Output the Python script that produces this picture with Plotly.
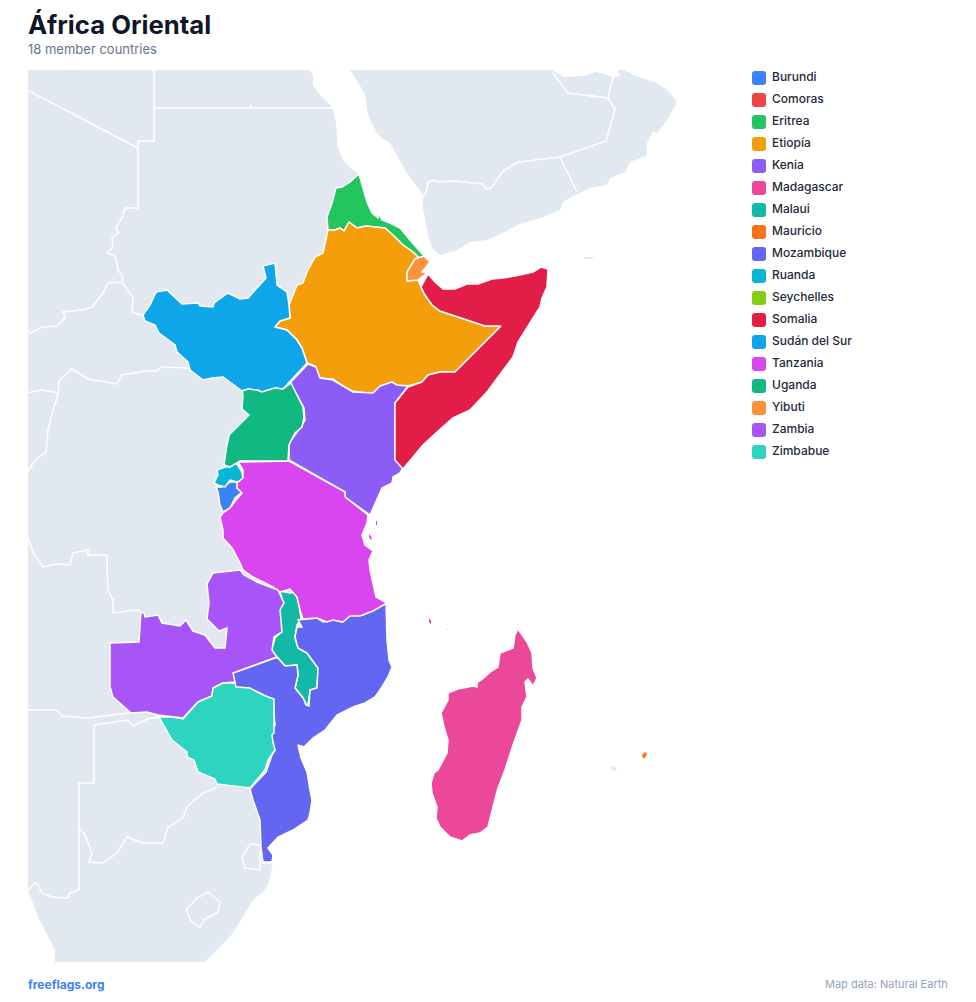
import plotly.graph_objects as go

# outlines: Mercator grid, 1 unit = 1/15 degree, origin at 22E / equator
burundi = [(107, -41), (113, -41), (121, -36), (128, -36), (128, -42), (133, -46), (126, -52), (121, -62),
           (114, -66), (111, -59), (109, -46)]
comoras = [(320, -172), (322, -175), (322, -178), (320, -176)]
eritrea = [(250, 272), (254, 258), (258, 244), (263, 233), (269, 228), (270, 232), (273, 226), (281, 223),
           (291, 218), (301, 206), (308, 198), (315, 190), (310, 188), (304, 194), (294, 201), (284, 211),
           (276, 218), (266, 219), (257, 220), (248, 218), (240, 224), (235, 215), (231, 218), (226, 216),
           (219, 216), (218, 229), (223, 243), (227, 258), (233, 259), (241, 264)]
etiopia = [(240, 224), (248, 218), (257, 220), (266, 219), (276, 218), (284, 211), (294, 201), (304, 194),
           (310, 188), (306, 187), (298, 174), (298, 165), (309, 166), (312, 159), (316, 151), (323, 141),
           (331, 135), (376, 120), (392, 120), (346, 74), (331, 74), (319, 71), (313, 64), (299, 60),
           (288, 60), (283, 64), (271, 59), (264, 52), (243, 55), (234, 60), (224, 67), (211, 68), (207, 73),
           (206, 80), (198, 83), (193, 98), (188, 106), (178, 116), (166, 119), (171, 125), (181, 128),
           (180, 141), (184, 151), (188, 161), (194, 163), (198, 174), (206, 189), (214, 193), (219, 216),
           (226, 216), (231, 218), (235, 215)]
kenia = [(181, 63), (199, 82), (207, 79), (211, 68), (224, 66), (244, 54), (264, 53), (271, 60), (283, 64),
         (288, 61), (299, 60), (286, 43), (286, -12), (294, -22), (291, -27), (284, -31), (283, -37),
         (273, -42), (269, -51), (261, -69), (236, -51), (236, -46), (180, -14), (180, 3), (191, 18),
         (196, 26), (195, 38), (188, 51)]
madagascar = [(409, -183), (418, -196), (423, -207), (424, -222), (428, -232), (424, -240), (419, -233),
              (416, -236), (418, -251), (413, -261), (413, -274), (404, -299), (396, -324), (389, -342),
              (384, -361), (379, -381), (371, -387), (361, -389), (353, -395), (341, -391), (331, -381),
              (327, -372), (328, -361), (323, -347), (322, -337), (325, -327), (329, -324), (338, -307),
              (339, -294), (335, -281), (332, -267), (339, -254), (339, -247), (349, -243), (364, -240),
              (368, -241), (368, -237), (376, -231), (381, -226), (389, -221), (391, -207), (404, -202),
              (406, -189)]
malaui = [(171, -145), (181, -147), (186, -146), (189, -154), (192, -172), (188, -179), (186, -191),
          (189, -202), (198, -207), (209, -222), (208, -242), (201, -244), (199, -259), (197, -258),
          (194, -252), (186, -242), (189, -229), (188, -219), (176, -220), (169, -212), (162, -206),
          (166, -192), (171, -187), (169, -164), (174, -157)]
mauricio = [(536, -306), (538, -308), (536, -312), (534, -312), (533, -309)]
mozambique = [(277, -157), (278, -194), (280, -214), (283, -221), (279, -231), (273, -241), (266, -251),
              (256, -257), (244, -261), (228, -269), (216, -284), (204, -292), (195, -301), (189, -299),
              (192, -312), (198, -326), (201, -344), (203, -354), (201, -367), (199, -374), (184, -384),
              (169, -391), (159, -402), (164, -409), (163, -416), (154, -416), (152, -401), (151, -374),
              (144, -354), (141, -343), (157, -326), (163, -309), (166, -304), (163, -296), (162, -287),
              (166, -279), (164, -254), (151, -247), (138, -242), (126, -241), (124, -227), (166, -212),
              (169, -212), (176, -220), (188, -219), (189, -229), (186, -242), (194, -252), (197, -259),
              (200, -260), (201, -244), (208, -242), (209, -222), (198, -207), (189, -202), (186, -191),
              (188, -181), (193, -181), (189, -174), (208, -172), (214, -176), (224, -174), (233, -176),
              (241, -169), (254, -169)]
ruanda = [(127, -17), (133, -26), (134, -34), (128, -36), (121, -34), (116, -41), (109, -39), (105, -37),
          (109, -29), (108, -24), (116, -21), (121, -21)]
seychelles = []
somalia = [(319, 172), (326, 164), (334, 157), (346, 157), (358, 162), (369, 162), (383, 167), (394, 168),
           (411, 171), (424, 174), (432, 179), (439, 177), (438, 159), (433, 148), (431, 139), (418, 118),
           (409, 104), (404, 89), (391, 71), (378, 54), (361, 36), (344, 28), (328, 14), (314, 1), (294, -23),
           (286, -14), (286, 43), (299, 59), (313, 64), (319, 71), (331, 74), (346, 74), (392, 120),
           (376, 120), (331, 135), (323, 141), (316, 151), (312, 159)]
sudan_sur = [(166, 183), (154, 180), (157, 168), (149, 159), (139, 148), (131, 147), (119, 153), (105, 143),
             (104, 139), (91, 140), (89, 143), (73, 142), (58, 156), (47, 154), (41, 141), (34, 131),
             (36, 125), (46, 121), (50, 113), (66, 101), (68, 94), (79, 84), (81, 76), (94, 66), (103, 68),
             (114, 69), (133, 55), (139, 57), (148, 56), (153, 54), (166, 58), (174, 57), (198, 83), (193, 98),
             (188, 106), (178, 116), (166, 119), (171, 125), (181, 128), (180, 141), (178, 154), (168, 161),
             (167, 174)]
tanzania = [(129, -16), (180, -15), (236, -46), (236, -51), (259, -69), (258, -77), (253, -89), (256, -99),
            (264, -105), (260, -114), (261, -124), (264, -137), (267, -151), (278, -157), (264, -165),
            (251, -170), (241, -170), (234, -176), (224, -174), (218, -176), (208, -172), (194, -173),
            (191, -164), (188, -151), (181, -143), (171, -146), (164, -141), (154, -136), (144, -131),
            (134, -124), (131, -117), (123, -102), (114, -92), (114, -84), (111, -71), (114, -67), (121, -62),
            (127, -54), (133, -47), (128, -42), (128, -37), (134, -32), (134, -24)]
tanzania_islands = [[(267, -75), (268, -75), (268, -79), (267, -79)],
                    [(260, -88), (263, -92), (262, -94), (260, -91)]]
uganda = [(133, 55), (139, 57), (148, 56), (153, 54), (166, 58), (174, 57), (182, 63), (188, 51), (194, 39),
          (195, 28), (193, 19), (186, 13), (180, 1), (179, -15), (131, -15), (121, -21), (115, -19), (118, 1),
          (120, 11), (128, 19), (140, 31), (133, 37), (134, 51)]
yibuti = [(315, 190), (321, 184), (317, 179), (313, 174), (318, 173), (309, 166), (298, 165), (298, 174),
          (306, 187), (310, 188)]
zambia = [(104, -127), (131, -124), (135, -129), (148, -136), (161, -141), (169, -144), (175, -157),
          (171, -164), (173, -186), (165, -191), (163, -204), (168, -211), (124, -227), (126, -236),
          (114, -237), (104, -242), (103, -250), (89, -256), (74, -272), (63, -271), (49, -269), (38, -266),
          (22, -267), (4, -251), (1, -241), (1, -197), (30, -196), (32, -166), (35, -167), (36, -171),
          (49, -169), (53, -177), (71, -180), (77, -174), (84, -185), (96, -189), (106, -202), (116, -202),
          (118, -182), (110, -185), (98, -173), (100, -157), (98, -138)]
zimbabue = [(50, -271), (63, -271), (74, -273), (89, -256), (103, -250), (104, -242), (114, -237), (126, -237),
            (127, -241), (141, -242), (154, -249), (165, -253), (165, -287), (163, -289), (164, -296),
            (166, -304), (159, -314), (156, -324), (141, -342), (123, -340), (108, -338), (106, -333),
            (89, -326), (85, -314), (78, -311), (78, -306), (63, -294)]

# neighbours, all in the same grey
africa_rest = [(-90, 385), (200, 385), (200, 376), (204, 371), (204, 361), (211, 351), (223, 339), (227, 324),
               (229, 298), (234, 286), (244, 276), (250, 272), (250, 250), (296, 170), (290, 0), (245, -70),
               (245, -160), (190, -290), (160, -380), (158, -410), (164, -417), (160, -436), (156, -444),
               (144, -454), (138, -464), (124, -487), (111, -501), (96, -516), (90, -530), (-54, -530),
               (-54, -504), (-62, -489), (-71, -471), (-76, -457), (-81, -446), (-90, -440)]
arabia = [(241, 385), (241, 376), (249, 364), (256, 351), (259, 331), (269, 311), (281, 303), (289, 289),
          (299, 271), (311, 256), (314, 248), (314, 238), (319, 211), (323, 198), (331, 191), (348, 196),
          (361, 204), (378, 206), (394, 213), (408, 221), (431, 228), (451, 236), (454, 244), (464, 250),
          (481, 258), (498, 261), (501, 268), (516, 274), (521, 284), (534, 289), (538, 291), (538, 303),
          (544, 315), (548, 313), (558, 326), (568, 344), (558, 356), (548, 363), (524, 371), (516, 376),
          (511, 385), (508, 376), (511, 371), (504, 369), (488, 374), (474, 370), (454, 369), (444, 376),
          (444, 385)]
socotra = [(474, 189), (486, 189), (481, 187), (476, 187)]
mayotte = [(337, -183), (339, -183), (339, -184), (337, -184)]
reunion = [(502, -320), (506, -321), (508, -325), (504, -325), (502, -323)]

borders = [
    [(-82, 356), (29, 298)],
    [(45, 376), (45, 305), (29, 305), (29, 238), (16, 238), (13, 228), (7, 219), (9, 213), (3, 208), (4, 199),
     (-2, 193), (6, 191), (9, 176), (14, 169), (13, 164), (24, 148), (23, 134), (34, 130)],
    [(45, 338), (141, 338), (142, 341), (143, 338), (223, 338)],
    [(13, 164), (-1, 163), (-6, 153), (-17, 139), (-27, 136), (-46, 134), (-44, 128), (-52, 120), (-67, 119),
     (-78, 113), (-82, 116)],
    [(79, 78), (53, 79), (48, 75), (36, 75), (13, 71), (8, 62), (-21, 67), (-37, 77), (-49, 66), (-50, 64),
     (-51, 51), (-57, 33), (-61, 16), (-63, -6), (-74, -14), (-82, -27)],
    [(-82, 53), (-67, 56), (-51, 53)],
    [(-81, -91), (-76, -107), (-66, -121), (-52, -118), (-39, -119), (-36, -107), (-21, -104), (-21, -109),
     (-2, -109), (-2, -124), (-1, -144), (4, -154), (4, -167), (18, -165), (31, -164)],
    [(-82, -264), (-52, -264), (-47, -270), (-22, -272), (21, -267), (34, -265), (46, -267), (50, -271)],
    [(-15, -279), (19, -274), (24, -280), (38, -273), (49, -271)],
    [(-15, -279), (-15, -337), (-30, -337), (-30, -444), (-39, -447), (-42, -452), (-57, -451), (-67, -447),
     (-71, -439), (-74, -437), (-81, -445)],
    [(-30, -382), (-24, -389), (-17, -407), (-20, -416), (-6, -417), (8, -407), (18, -391), (34, -397),
     (54, -397), (59, -381), (74, -372), (78, -361), (94, -347), (108, -341)],
    [(151, -399), (141, -398), (133, -411), (136, -422), (151, -424), (151, -399)],
    [(151, -417), (164, -417)],
    [(99, -446), (111, -456), (109, -466), (96, -473), (91, -481), (83, -476), (77, -464), (88, -452), (99, -446)],
    [(314, 248), (318, 256), (319, 264), (324, 266), (329, 264), (348, 265), (374, 262), (377, 257), (382, 258),
     (394, 275), (409, 284), (451, 289), (468, 254)],
    [(451, 289), (497, 305), (506, 337), (499, 348), (459, 353), (444, 373)],
    [(499, 348), (504, 369), (511, 371)],
]

names = ['Burundi', 'Comoras', 'Eritrea', 'Etiopía', 'Kenia', 'Madagascar', 'Malaui', 'Mauricio', 'Mozambique',
         'Ruanda', 'Seychelles', 'Somalia', 'Sudán del Sur', 'Tanzania', 'Uganda', 'Yibuti', 'Zambia', 'Zimbabue']
colors = ['#3b82f6', '#ef4444', '#22c55e', '#f59e0b', '#8b5cf6', '#ec4899', '#14b8a6', '#f97316', '#6366f1',
          '#06b6d4', '#84cc16', '#e11d48', '#0ea5e9', '#d946ef', '#10b981', '#fb923c', '#a855f7', '#2dd4bf']
outlines = [burundi, comoras, eritrea, etiopia, kenia, madagascar, malaui, mauricio, mozambique,
            ruanda, seychelles, somalia, sudan_sur, tanzania, uganda, yibuti, zambia, zimbabue]

LAND = '#e2e8f0'
W, H = 976, 1002


def closed(points):
    return [p[0] for p in points] + [points[0][0]], [p[1] for p in points] + [points[0][1]]


fig = go.Figure()

for land in [africa_rest, arabia, socotra, mayotte, reunion]:
    xs, ys = closed(land)
    fig.add_trace(go.Scatter(x=xs, y=ys, mode='lines', fill='toself', fillcolor=LAND,
                             line=dict(width=0), hoverinfo='skip'))

# white borders between the neighbours
border_x, border_y = [], []
for line in borders:
    border_x += [p[0] for p in line] + [None]
    border_y += [p[1] for p in line] + [None]
fig.add_trace(go.Scatter(x=border_x, y=border_y, mode='lines', line=dict(color='white', width=1.5),
                         hoverinfo='skip'))

# member countries, tiny islands get no outline or they would vanish
for name, color, outline in zip(names, colors, outlines):
    if not outline:
        continue
    xs, ys = closed(outline)
    island = len(outline) < 6
    fig.add_trace(go.Scatter(x=xs, y=ys, mode='lines', fill='toself', fillcolor=color, name=name,
                             line=dict(color='white', width=0 if island else 1.5), hoveron='fills'))
for islet in tanzania_islands:
    xs, ys = closed(islet)
    fig.add_trace(go.Scatter(x=xs, y=ys, mode='lines', fill='toself', fillcolor=colors[13], name=names[13],
                             line=dict(width=0), hoveron='fills'))

# legend column on its own axes, one row per country
rows = list(range(len(names)))
fig.add_trace(go.Scatter(x=[32] * len(names), y=rows, mode='text', text=names, textposition='middle right',
                         textfont=dict(family='Inter', size=12, color='#1e293b', weight=500),
                         xaxis='x2', yaxis='y2', hoverinfo='skip'))

swatch = 'M -4,-7 L 4,-7 Q 7,-7 7,-4 L 7,4 Q 7,7 4,7 L -4,7 Q -7,7 -7,4 L -7,-4 Q -7,-7 -4,-7 Z'
shapes = [dict(type='path', path=swatch, xref='x2', yref='y2', xsizemode='pixel', ysizemode='pixel',
               xanchor=19, yanchor=i, fillcolor=c, line=dict(width=0)) for i, c in zip(rows, colors)]


def note(text, x, y, size, color, weight=400, anchor='left'):
    return dict(text=text, x=x / W, y=1 - y / H, xref='paper', yref='paper', xanchor=anchor, yanchor='middle',
                showarrow=False, borderpad=0, borderwidth=0,
                font=dict(family='Inter', size=size, color=color, weight=weight))


fig.update_layout(
    width=W, height=H,
    margin=dict(l=0, r=0, t=0, b=0),
    paper_bgcolor='white', plot_bgcolor='white',
    showlegend=False,
    xaxis=dict(domain=[28 / W, 710 / W], range=[-81, 601], visible=False),
    yaxis=dict(domain=[1 - 962 / H, 1 - 70 / H], range=[-516, 376], visible=False),
    xaxis2=dict(domain=[740 / W, 1], range=[0, 236], visible=False, anchor='y2'),
    yaxis2=dict(domain=[1 - 463 / H, 1 - 67 / H], range=[17.5, -0.5], visible=False, anchor='x2'),
    shapes=shapes,
    annotations=[
        note('África Oriental', 28, 25, 25.7, '#0f172a', 700),
        note('18 member countries', 28, 49, 13, '#64748b'),
        note('freeflags.org', 28, 984, 12, '#3b82f6', 700),
        note('Map data: Natural Earth', 948, 984, 11, '#94a3b8', anchor='right'),
    ],
)

fig.write_html("out.html", config={'displayModeBar': False},
               post_script="document.body.style.margin='0';document.body.style.overflow='hidden';")
